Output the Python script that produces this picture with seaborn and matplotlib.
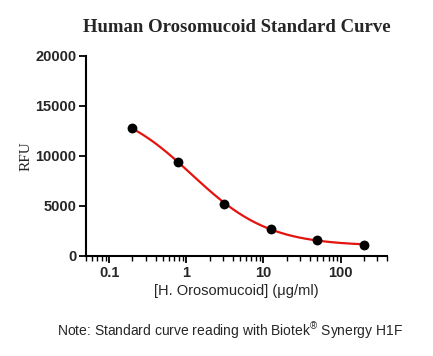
import numpy as np
import pandas as pd
import matplotlib
matplotlib.use('Agg')
import matplotlib.pyplot as plt
import seaborn as sns

# standard curve readings
conc = [0.195, 0.78, 3.125, 12.5, 50, 200]
rfu = [12770, 9430, 5230, 2700, 1570, 1130]
yticks = [0, 5000, 10000, 15000, 20000]
xticks = [0.1, 1, 10, 100]
xticklabels = ['0.1', '1', '10', '100']

std = pd.DataFrame({'conc': conc, 'rfu': rfu})

# 4 parameter logistic fit: grid over EC50 / hill, least squares for top & bottom
x = np.array(conc, dtype=float)
y = np.array(rfu, dtype=float)
best = None
for lc in np.linspace(-1.5, 2.5, 401):
    for b in np.linspace(0.2, 3.0, 141):
        s = 1.0 / (1.0 + (x / 10 ** lc) ** b)
        M = np.column_stack([1 - s, s])
        coef, *_ = np.linalg.lstsq(M, y, rcond=None)
        err = np.sum((M @ coef - y) ** 2)
        if best is None or err < best[0]:
            best = (err, lc, b, coef)
_, lc, b, (bottom, top) = best
xs = np.logspace(np.log10(x.min()), np.log10(x.max()), 200)
fit = pd.DataFrame({'conc': xs,
                    'rfu': bottom + (top - bottom) / (1 + (xs / 10 ** lc) ** b)})

sns.set_style('ticks')
plt.rcParams['font.family'] = ['Liberation Sans', 'DejaVu Sans']
plt.rcParams['mathtext.fontset'] = 'custom'
plt.rcParams['mathtext.rm'] = 'Liberation Sans'

fig = plt.figure(figsize=(4.33, 3.56), dpi=100)
ax = fig.add_axes([0.1986, 0.281, 0.695, 0.562])

sns.lineplot(x='conc', y='rfu', data=fit, ax=ax, color='#e3140f', lw=1.6)
sns.scatterplot(x='conc', y='rfu', data=std, ax=ax, color='black', s=50,
                edgecolor='black', linewidth=0, zorder=3)

ax.set_xscale('log')
ax.set_xlim(0.05, 400)
ax.set_ylim(0, 20000)
ax.set_yticks(yticks)
ax.set_yticklabels([str(t) for t in yticks], fontweight='bold', fontsize=10.5)
ax.set_xticks(xticks)
ax.set_xticklabels(xticklabels, fontweight='bold', fontsize=10.5)
ax.xaxis.set_minor_locator(matplotlib.ticker.LogLocator(base=10, subs=np.arange(2, 10)))
ax.xaxis.set_minor_formatter(matplotlib.ticker.NullFormatter())

for sp in ['left', 'bottom']:
    ax.spines[sp].set_linewidth(1.5)
    ax.spines[sp].set_color('black')
sns.despine(ax=ax)
ax.tick_params(axis='both', which='major', length=5, width=1.3, color='black', pad=2)
ax.tick_params(axis='x', which='minor', length=3.5, width=1.0, color='black')

ax.set_xlabel('[H. Orosomucoid] (\u03bcg/ml)', fontsize=10.5, labelpad=3)
ax.set_ylabel('RFU', fontsize=11, family=['Liberation Serif'], labelpad=2)
ax.set_title('Human Orosomucoid Standard Curve', fontsize=13.5, fontweight='bold',
             family=['Liberation Serif'], pad=17)

fig.text(0.531, 0.07, 'Note: Standard curve reading with Biotek$^{\u00ae}$ Synergy H1F',
         ha='center', va='center', fontsize=10)

fig.savefig('out.png', dpi=100)
